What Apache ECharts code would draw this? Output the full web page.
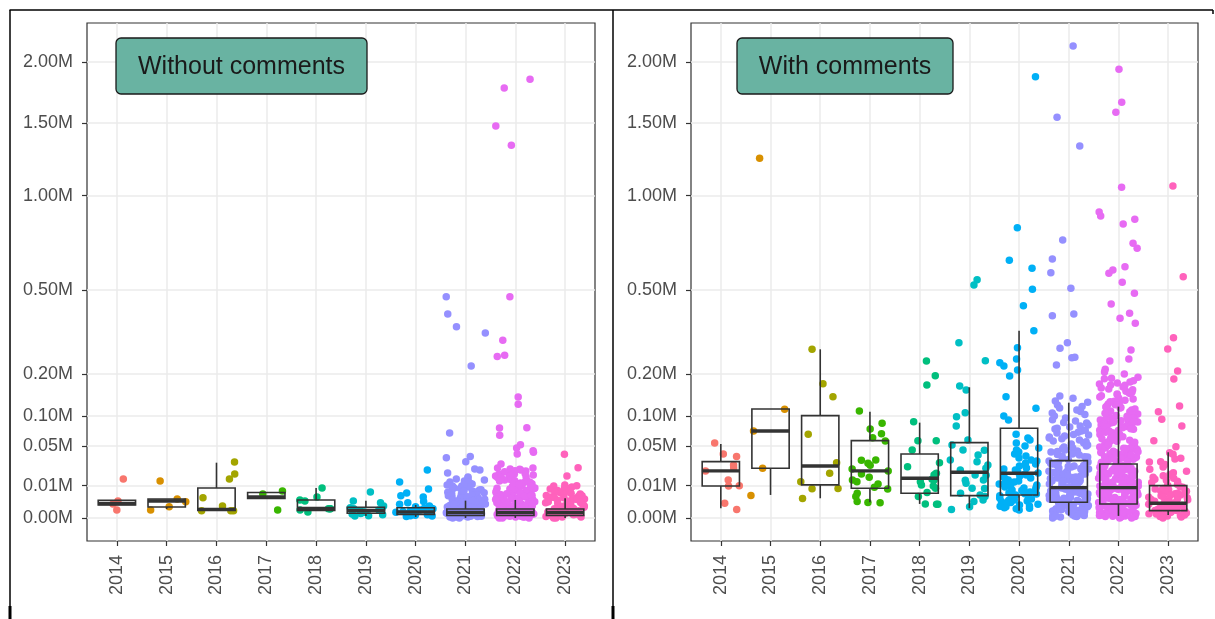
<!DOCTYPE html>
<html>
<head>
<meta charset="utf-8">
<script src="https://cdn.jsdelivr.net/npm/echarts@6/dist/echarts.min.js"></script>
<style>
  html, body { margin: 0; padding: 0; background: #ffffff; }
  #chart { width: 1215px; height: 619px; }
</style>
</head>
<body>
<div id="chart"></div>
<script>
// ---- data (all counts in thousands) ----
const years = ['2014', '2015', '2016', '2017', '2018', '2019', '2020', '2021', '2022', '2023'];
const panelTitles = ['Without comments', 'With comments'];
const yBreaks = [0, 10, 50, 100, 200, 500, 1000, 1500, 2000];
const yBreakLabels = ['0.00M', '0.01M', '0.05M', '0.10M', '0.20M', '0.50M', '1.00M', '1.50M', '2.00M'];
const yearColors = ['#F8766D', '#D89000', '#A3A500', '#39B600', '#00BF7D', '#00BFC4', '#00B0F6', '#9590FF', '#E76BF3', '#FF62BC'];

// box statistics per year: [lower whisker, Q1, median, Q3, upper whisker]
const noCmtBoxes = [
  [1.63, 1.63, 2.02, 3.01, 3.01],
  [0.78, 1.16, 2.78, 3.47, 3.47],
  [0.54, 0.54, 0.70, 8.66, 29.4],
  [3.66, 3.66, 4.24, 6.26, 6.26],
  [0.54, 0.54, 0.87, 3.12, 8.66],
  [0.04, 0.21, 0.54, 1.10, 2.88],
  [0.01, 0.12, 0.35, 0.99, 1.63],
  [0.00, 0.06, 0.29, 0.78, 2.88],
  [0.00, 0.06, 0.29, 0.78, 3.12],
  [0.00, 0.06, 0.29, 0.78, 3.73]
];
const cmtBoxes = [
  [0.91, 9.85, 21.3, 30.5, 52.7],
  [5.09, 23.8, 72.8, 114.3, 114.3],
  [3.73, 10.5, 26.0, 100.7, 273.8],
  [2.37, 8.49, 21.3, 57.5, 108.7],
  [1.89, 5.87, 15.2, 39.4, 87.4],
  [0.91, 4.78, 20.1, 54.6, 164.3],
  [0.51, 5.09, 19.2, 77.4, 337.5],
  [0.05, 2.37, 8.83, 31.6, 127.9],
  [0.04, 1.89, 8.83, 28.05, 119.2],
  [0.09, 0.51, 2.08, 10.04, 41.5]
];

// individual projects, without comments
const noCmt2014 = [2.8, 0.6, 1.9, 14.6];
const noCmt2015 = [3.5, 0.6, 13.2, 1.2, 2.5];
const noCmt2016 = [0.5, 1.4, 18.6, 3.9, 30.2, 0.5, 14.6, 0.5];
const noCmt2017 = [5.5, 7.0, 0.6];
const noCmt2018 = [8.7, 0.35, 2.8, 0.6, 3.1, 4.2, 0.8, 0.8, 0.8];
const noCmt2019 = [6.5, 2.8, 2.2, 0.24, 0.04, 0.6, 0.35, 0.15, 1.0, 0.5, 0.1, 0.8, 0.3, 0.05, 1.4, 0.2, 0.7];
const noCmt2020 = [22.2, 12.5, 8.1, 4.7, 6.0, 4.2, 2.2, 1.4, 1.0, 0.6, 0.35, 0.15, 0.04, 0.8, 0.5, 0.25, 1.8, 0.1, 0.02, 0.9, 0.4, 0.3, 0.07, 1.2, 0.6, 2.6, 0.2, 0.05];
const noCmt2021 = [471.2, 400.4, 352.1, 329.3, 222.3, 69.5, 30.5, 36.2, 35.0, 19.5, 23.1, 22.2,
  15.4, 14.6, 16.2, 13.9, 12.5, 13.2, 11.8, 11.1, 12.7, 10.5, 9.9, 9.2, 8.7, 10.3, 9.6,
  8.1, 7.5, 7.0, 8.3, 6.5, 6.0, 7.6, 5.5, 5.1, 6.4, 4.7, 4.2, 5.4, 3.9, 3.5, 4.8, 3.1, 3.8, 3.4, 3.2, 4.3, 6.1, 7.1, 5.0, 3.3,
  2.8, 2.5, 2.2, 1.9, 1.6, 1.4, 1.2, 1.0, 0.8, 2.7, 2.4, 2.1, 1.85, 1.55, 1.35, 1.15, 0.95, 0.82, 2.6, 2.0, 1.5, 1.1, 0.9, 2.3, 1.7, 1.3, 0.85, 2.9, 1.8, 1.05,
  0.7, 0.6, 0.5, 0.4, 0.35, 0.3, 0.25, 0.2, 0.15, 0.1, 0.07, 0.04, 0.02, 0.01, 0.0, 0.72, 0.55, 0.45, 0.36, 0.28, 0.22, 0.17, 0.12, 0.08, 0.05, 0.03, 0.01,
  0.65, 0.5, 0.38, 0.31, 0.24, 0.18, 0.13, 0.09, 0.06, 0.03, 0.02, 0.01, 0.0];
const noCmt2022 = [1851.5, 1778.9, 1478.4, 1336.4, 471.2, 303.8, 254.7, 251.0, 140.9, 124.4, 78.5, 77.9, 65.8, 51.7, 47.1, 39.4, 41.5, 43.6, 28.1,
  24.1, 22.2, 23.1, 20.4, 21.3, 19.5, 18.6, 17.8, 20.6, 17.0, 16.2, 18.4, 15.4, 14.6, 16.0, 13.9, 15.6, 14.8, 24.0, 21.5, 19.0, 17.4, 15.8, 14.2, 22.8,
  13.2, 12.5, 11.8, 11.1, 10.5, 9.9, 9.2, 8.7, 8.1, 7.5, 7.0, 6.5, 6.0, 13.4, 12.3, 11.6, 11.3, 10.2, 9.7, 9.4, 8.5, 8.3, 7.3, 6.8, 6.3, 5.9, 12.8, 10.8, 9.5, 7.8,
  5.5, 5.1, 4.7, 4.2, 3.9, 3.5, 3.1, 2.8, 2.5, 2.2, 1.9, 1.6, 1.4, 5.6, 5.0, 4.6, 4.3, 3.8, 3.4, 3.2, 2.9, 2.4, 2.25, 1.95, 1.65, 1.38,
  5.3, 4.9, 4.4, 4.0, 3.7, 3.3, 3.0, 2.6, 2.3, 2.0, 1.7, 1.5, 5.8, 4.5, 3.6, 2.7, 2.1, 1.8, 1.45,
  1.2, 1.0, 0.8, 0.7, 0.6, 0.5, 0.4, 0.35, 0.3, 0.25, 0.2, 0.15, 0.1, 0.07, 0.04, 0.02, 0.01, 0.0,
  1.3, 1.1, 0.9, 0.75, 0.65, 0.55, 0.45, 0.38, 0.32, 0.27, 0.22, 0.17, 0.12, 0.08, 0.05, 0.03, 0.01, 0.0,
  1.25, 1.05, 0.85, 0.72, 0.58, 0.48, 0.41, 0.33, 0.26, 0.19, 0.14, 0.09, 0.06, 0.03, 0.02, 0.0,
  1.15, 0.95, 0.78, 0.62, 0.52, 0.42, 0.34, 0.28, 0.21, 0.16, 0.11, 0.05, 0.01];
const noCmt2023 = [39.0, 24.3, 17.0,
  10.5, 9.9, 9.2, 8.7, 8.1, 7.5, 7.0, 6.5, 6.0, 5.5, 5.1, 4.7, 10.0, 9.0, 8.4, 7.8, 7.2, 6.8, 6.2, 5.7, 5.3, 4.9,
  4.2, 3.9, 3.5, 3.1, 2.8, 2.5, 2.2, 1.9, 1.6, 1.4, 1.2, 1.0, 4.4, 4.0, 3.6, 3.3, 3.0, 2.6, 2.3, 2.0, 1.7, 1.5, 1.3, 1.1,
  0.9, 0.8, 0.7, 0.6, 0.5, 0.4, 0.35, 0.3, 0.25, 0.2, 0.15, 0.1, 0.07, 0.04, 0.02, 0.01, 0.0,
  0.85, 0.72, 0.58, 0.46, 0.38, 0.3, 0.22, 0.16, 0.11, 0.06, 0.03, 0.01, 0.0];

// individual projects, with comments
const cmt2014 = [54.1, 36.2, 39.4, 27.0, 24.1, 21.3, 13.9, 10.0, 9.9, 2.1, 0.7];
const cmt2015 = [1244.8, 113.7, 72.8, 23.8, 4.8];
const cmt2016 = [273.8, 173.5, 141.6, 67.4, 29.4, 19.2, 12.7, 8.3, 8.2, 3.6];
const cmt2017 = [110.2, 86.3, 76.2, 68.4, 62.0, 57.0, 32.4, 32.0, 28.8, 26.7, 23.1, 21.3, 18.6, 15.9, 13.9, 12.7, 11.1, 9.1, 8.1, 5.9, 4.4, 2.6, 2.3, 2.2];
const cmt2018 = [237.1, 194.8, 170.2, 89.2, 57.5, 57.3, 44.5, 29.4, 25.3, 19.2, 17.8, 18.6, 12.7, 14.4, 10.5, 9.9, 13.9, 6.2, 8.5, 4.4, 1.8, 1.8, 1.9];
const cmt2019 = [546.3, 522.3, 295.6, 238.0, 167.6, 157.6, 106.7, 98.7, 81.4, 58.5, 51.3, 44.5, 44.2, 38.2, 32.4, 30.5, 27.0, 23.8, 22.2, 17.8, 17.6,
  13.9, 13.7, 11.6, 8.5, 8.4, 5.9, 4.4, 5.1, 3.1, 2.6, 0.7, 1.2];
const cmt2020 = [1873.6, 810.8, 638.9, 599.9, 503.2, 433.6, 337.5, 279.0, 243.2, 222.3, 232.0, 210.7, 194.0, 141.6, 115.8, 100.1, 92.4, 67.4,
  61.6, 58.5, 54.1, 49.9, 47.1, 44.5, 41.9, 39.4, 37.0, 34.6, 32.4, 31.3, 29.1, 28.1, 26.0, 24.1, 23.1, 22.2, 20.4, 19.5, 18.6, 17.8,
  17.0, 16.2, 15.4, 14.6, 13.9, 13.2, 12.5, 11.8, 11.1, 10.5, 9.9, 9.2, 8.7, 8.1, 7.5, 7.0, 6.5, 6.0, 5.5, 5.1, 4.7, 4.2, 3.8, 3.5,
  3.1, 2.8, 2.5, 2.2, 1.9, 1.6, 1.4, 1.2, 1.0, 0.8, 0.6, 7.2, 5.6, 4.3, 3.4, 2.6, 1.8, 1.3, 0.9, 9.4, 6.6, 3.0, 2.3];
const cmt2021 = [2143.4, 1544.8, 1331.3, 743.5, 645.4, 578.9, 507.6, 393.7, 400.4, 295.6, 277.1, 248.4, 247.2, 225.2, 143.2, 137.8,
  131.7, 122.8, 116.4, 112.2, 106.1, 100.1, 96.2, 90.5, 86.8, 83.2, 79.7, 76.2, 72.8, 69.5, 66.3, 63.1, 61.6, 58.5, 57.0, 54.1, 52.7,
  49.9, 48.5, 47.1, 44.5, 43.2, 41.9, 40.6, 39.4, 38.2, 37.0, 35.8, 34.6, 33.5,
  31.3, 30.2, 29.6, 29.1, 28.1, 27.0, 26.4, 26.0, 25.0, 24.1, 23.6, 23.1, 22.2, 21.3, 20.9, 20.4, 19.5, 18.6, 18.1, 17.8, 17.0, 16.2,
  15.8, 15.4, 14.6, 13.9, 13.5, 13.2, 12.5, 11.8, 11.4, 11.1, 10.5, 9.9, 9.6, 9.2, 8.7,
  8.1, 7.8, 7.5, 7.0, 6.8, 6.5, 6.0, 5.8, 5.5, 5.1, 4.9, 4.7, 4.2, 4.0, 3.8, 3.5, 3.3, 3.1, 2.8, 2.6, 2.5, 8.4, 7.2, 6.2, 5.3, 4.4,
  3.6, 2.9, 7.6, 6.6, 5.6, 4.6, 3.7, 3.0, 2.7,
  2.2, 2.1, 1.9, 1.8, 1.6, 1.5, 1.4, 1.3, 1.2, 1.1, 1.0, 0.9, 0.8, 0.7, 0.6, 0.5, 0.47, 0.4, 0.35, 0.3, 0.24, 0.2, 0.15, 0.12, 0.09,
  0.06, 0.04, 0.02, 0.01, 0.0, 2.0, 1.7, 1.35, 1.05, 0.75, 0.55, 0.33, 0.18, 0.07, 0.03,
  128.6, 119.3, 108.9, 103.2, 92.7, 87.9, 81.5, 77.6, 73.9, 70.8, 67.2, 64.7, 60.2, 55.8, 51.1, 46.0, 42.5, 38.9, 36.1, 32.9,
  30.7, 28.6, 25.6, 22.7, 19.9, 17.4, 14.9, 12.9, 10.8, 9.4, 7.9, 6.3, 4.8, 3.4, 2.3, 1.5, 0.85, 0.4, 0.16, 0.05];
const cmt2022 = [1936.9, 1662.6, 1583.5, 1052.1, 900.8, 877.4, 858.3, 831.6, 726.0, 699.8, 607.6, 591.7, 576.1, 534.5, 485.8, 440.6,
  403.1, 383.7, 364.7, 271.5, 243.2, 237.1, 212.7,
  205.1, 199.3, 190.4, 186.2, 178.0, 172.5, 165.3, 160.1, 152.4, 148.0, 143.6, 138.2, 133.5, 128.4, 125.1, 120.6, 116.3, 112.0, 108.4, 104.2, 101.0,
  98.3, 96.0, 94.1, 92.2, 90.4, 88.5, 86.1, 84.8, 83.0, 81.2, 79.4, 77.3, 75.8, 74.1, 72.7, 71.2, 69.8, 68.1, 66.9, 65.2, 63.8, 62.1,
  61.0, 59.6, 58.2, 57.1, 55.9, 54.6, 53.2, 52.0, 50.8, 49.7, 48.5, 47.9, 47.2,
  46.8, 45.9, 45.1, 44.2, 43.5, 42.8, 41.7, 40.9, 40.3, 39.6, 38.8, 38.1, 37.3, 36.6, 36.0, 35.2, 34.5, 33.9, 33.1, 32.4, 31.8, 31.2,
  30.6, 30.0, 29.4, 28.9, 28.4, 28.0, 41.2, 35.7,
  27.6, 26.8, 26.1, 25.3, 24.7, 23.9, 23.2, 22.6, 21.8, 21.1, 20.5, 19.8, 19.2, 18.5, 17.9, 17.3, 16.7, 16.1, 15.6, 15.0, 14.4, 13.9,
  13.3, 12.8, 12.2, 11.7, 11.2, 10.7, 10.2, 9.8, 9.3, 8.9, 27.1, 24.2, 21.5, 19.0, 16.4, 14.1, 12.0, 10.0, 25.8, 22.9, 20.0, 17.6, 15.3,
  13.0, 11.0, 9.5,
  8.6, 8.2, 7.9, 7.5, 7.1, 6.8, 6.4, 6.1, 5.8, 5.5, 5.2, 4.9, 4.6, 4.3, 4.0, 3.7, 3.5, 3.2, 3.0, 2.7, 2.5, 2.3, 2.1, 1.95, 8.4, 7.3,
  6.2, 5.3, 4.5, 3.8, 3.1, 2.6, 2.2, 7.7, 6.6, 5.6, 4.7, 3.9, 3.3, 2.8, 2.4, 2.0,
  1.85, 1.7, 1.55, 1.4, 1.3, 1.2, 1.1, 1.0, 0.9, 0.8, 0.72, 0.64, 0.56, 0.49, 0.42, 0.36, 0.3, 0.25, 0.2, 0.16, 0.12, 0.09, 0.06, 0.04,
  0.02, 0.01, 0.0, 1.75, 1.45, 1.15, 0.95, 0.76, 0.6, 0.46, 0.33, 0.22, 0.14, 0.07, 0.03, 0.0, 1.6, 1.25, 0.85, 0.52, 0.27, 0.1, 0.02,
  188.0, 181.5, 175.2, 169.8, 162.7, 157.9, 154.6, 150.1, 146.3, 141.0, 136.4, 131.2, 127.0, 123.1, 118.5, 114.4, 110.2, 106.0,
  102.7, 99.4, 97.1, 95.0, 93.3, 91.0, 89.5, 87.2, 85.6, 82.1, 80.3, 78.2, 76.4, 73.5, 70.6, 67.5, 64.4, 60.3, 56.5, 51.4, 46.3,
  42.2, 37.8, 33.6, 29.8, 26.5, 23.6, 20.9, 18.8, 16.9, 15.1, 13.6, 12.4, 10.9, 9.9, 170.4, 149.2, 129.8, 117.4, 105.3, 96.8, 88.1,
  79.9, 72.0, 63.3, 55.2];
const cmt2023 = [1060.5, 560.2, 312.7, 274.8, 207.9, 185.9, 120.7, 108.7, 93.7, 81.4, 57.5, 48.9, 41.0, 39.0, 34.3, 33.5, 30.5, 30.2,
  27.5, 25.0, 22.8, 21.0, 19.6, 18.2, 17.1, 16.0, 15.2, 14.4, 13.6, 12.9, 12.1, 11.5, 10.8, 10.2,
  9.6, 9.0, 8.3, 7.7, 7.1, 6.6, 6.0, 5.6, 5.1, 4.7, 4.3, 3.9, 3.5, 3.2, 2.9, 2.6, 2.3, 2.1, 9.3, 8.0, 6.8, 5.9, 5.0, 4.1, 3.3, 2.7, 2.2,
  1.9, 1.7, 1.5, 1.3, 1.1, 0.95, 0.8, 0.7, 0.6, 0.52, 1.8, 1.4, 1.0, 0.75, 0.55,
  0.45, 0.38, 0.3, 0.24, 0.18, 0.12, 0.08, 0.04, 0.02, 0.0, 0.42, 0.27, 0.15, 0.06, 0.01];

// ---- drawing ----
const noCmtGroups = [noCmt2014, noCmt2015, noCmt2016, noCmt2017, noCmt2018, noCmt2019, noCmt2020, noCmt2021, noCmt2022, noCmt2023];
const cmtGroups = [cmt2014, cmt2015, cmt2016, cmt2017, cmt2018, cmt2019, cmt2020, cmt2021, cmt2022, cmt2023];

// square-root scale: thousands -> sqrt(millions)
const sqrtScale = k => Math.sqrt(Math.max(k, 0) / 1000);
const yTickPos = yBreaks.map(sqrtScale);
const xTickPos = years.map((y, i) => i);

// deterministic (hash based) horizontal spread of points within +/-0.4 of a category
function jitter(i, g) {
  let h = Math.imul(i + 1, 374761393) ^ Math.imul(g + 7, 668265263);
  h = Math.imul(h ^ (h >>> 13), 1274126177);
  h ^= h >>> 16;
  return ((h >>> 0) / 4294967296 - 0.5) * 0.8;
}

const FONT = '"Liberation Sans", Arial, sans-serif';
const gridBoxes = [
  { left: 87, top: 23, width: 508, height: 518 },
  { left: 691, top: 23, width: 507, height: 518 }
];

const grid = [], xAxis = [], yAxis = [], series = [];
[[noCmtGroups, noCmtBoxes], [cmtGroups, cmtBoxes]].forEach(([groups, boxes], p) => {
  grid.push(Object.assign({
    show: true, borderColor: '#333333', borderWidth: 1.2, backgroundColor: 'transparent'
  }, gridBoxes[p]));
  xAxis.push({
    type: 'value', gridIndex: p, min: -0.6, max: 9.6,
    axisLine: { show: false, onZero: false },
    axisTick: { show: true, customValues: xTickPos, length: 5, lineStyle: { color: '#333333', width: 1.2 } },
    axisLabel: {
      customValues: xTickPos, rotate: 90, margin: 14, color: '#4d4d4d', fontSize: 18, fontFamily: FONT,
      formatter: v => years[Math.round(v)] || ''
    },
    splitLine: { show: true, lineStyle: { color: '#ebebeb', width: 1.5 } }
  });
  yAxis.push({
    type: 'value', gridIndex: p, min: -0.0715, max: 1.5355,
    axisLine: { show: false, onZero: false },
    axisTick: { show: true, customValues: yTickPos, length: 5, lineStyle: { color: '#333333', width: 1.2 } },
    axisLabel: {
      customValues: yTickPos, margin: 14, color: '#4d4d4d', fontSize: 18, fontFamily: FONT,
      formatter: v => {
        const i = yTickPos.findIndex(t => Math.abs(t - v) < 1e-6);
        return i >= 0 ? yBreakLabels[i] : '';
      }
    },
    splitLine: { show: true, lineStyle: { color: '#ebebeb', width: 1.5 } }
  });

  groups.forEach((vals, g) => {
    series.push({
      type: 'scatter', xAxisIndex: p, yAxisIndex: p, z: 2, silent: true,
      symbol: 'circle', symbolSize: 7.5,
      itemStyle: { color: yearColors[g], opacity: 1 },
      data: vals.map((v, i) => [g + jitter(i, g + p * 10), sqrtScale(v)])
    });
  });

  series.push({
    type: 'custom', xAxisIndex: p, yAxisIndex: p, z: 5, silent: true,
    encode: { x: 0, y: [1, 2, 3, 4, 5] },
    data: boxes.map((b, g) => [g].concat(b.map(sqrtScale))),
    renderItem: (params, api) => {
      const x = api.value(0);
      const half = api.size([0.75, 0])[0] / 2;
      const pLow = api.coord([x, api.value(1)]);
      const pQ1 = api.coord([x, api.value(2)]);
      const pMed = api.coord([x, api.value(3)]);
      const pQ3 = api.coord([x, api.value(4)]);
      const pHigh = api.coord([x, api.value(5)]);
      const stroke = { stroke: '#333333', lineWidth: 1.6, fill: null };
      return {
        type: 'group',
        children: [
          { type: 'line', shape: { x1: pQ1[0], y1: pQ1[1], x2: pLow[0], y2: pLow[1] }, style: stroke },
          { type: 'line', shape: { x1: pQ3[0], y1: pQ3[1], x2: pHigh[0], y2: pHigh[1] }, style: stroke },
          { type: 'rect', shape: { x: pQ1[0] - half, y: pQ3[1], width: half * 2, height: pQ1[1] - pQ3[1] },
            style: { stroke: '#333333', lineWidth: 1.6, fill: 'none' } },
          { type: 'line', shape: { x1: pMed[0] - half, y1: pMed[1], x2: pMed[0] + half, y2: pMed[1] },
            style: { stroke: '#333333', lineWidth: 3.4 } }
        ]
      };
    }
  });
});

// panel title tags and the surrounding frame
const tag = (x, y, w, h, text) => [
  { type: 'rect', z: 100, shape: { x: x, y: y, width: w, height: h, r: 5 },
    style: { fill: '#69b3a2', stroke: '#1a1a1a', lineWidth: 1.3 } },
  { type: 'text', z: 101, x: x + w / 2, y: y + h / 2 + 1,
    style: { text: text, fill: '#1a1a1a', fontSize: 25, fontFamily: FONT, align: 'center', verticalAlign: 'middle' } }
];
const frameLine = (x1, y1, x2, y2, w) => ({
  type: 'line', z: 100, shape: { x1: x1, y1: y1, x2: x2, y2: y2 }, style: { stroke: '#000000', lineWidth: w }
});

const graphic = [].concat(
  tag(116, 38, 251, 56, panelTitles[0]),
  tag(737, 38, 216, 56, panelTitles[1]),
  [
    frameLine(9.5, 10, 1213, 10, 1.5),
    frameLine(10, 10, 10, 619, 1.5),
    frameLine(613, 10, 613, 619, 1.5),
    frameLine(1213, 10, 1213, 14, 1.5),
    frameLine(10, 606, 10, 619, 3),
    frameLine(613, 606, 613, 619, 3)
  ]
);

const chart = echarts.init(document.getElementById('chart'), null, { renderer: 'canvas' });
chart.setOption({
  animation: false,
  backgroundColor: '#ffffff',
  grid: grid,
  xAxis: xAxis,
  yAxis: yAxis,
  series: series,
  graphic: graphic
});
</script>
</body>
</html>
